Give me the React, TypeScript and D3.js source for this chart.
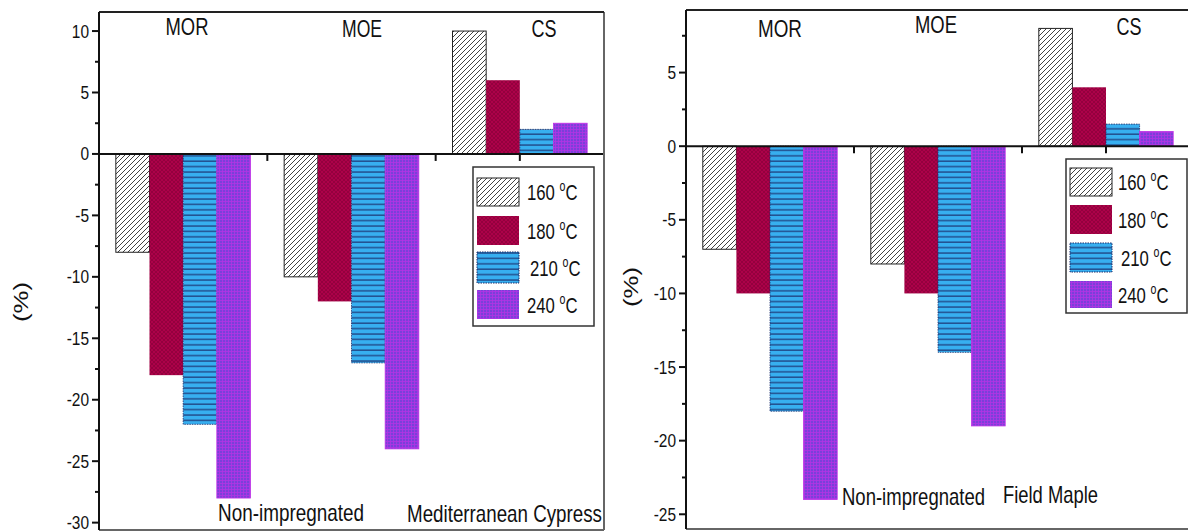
import React from 'react';
import * as d3 from 'd3';

// ---- data ----
const categories = ['MOR', 'MOE', 'CS'];
const temperatures = ['160', '180', '210', '240'];

const cypress160 = [-8, -10, 10];
const cypress180 = [-18, -12, 6];
const cypress210 = [-22, -17, 2];
const cypress240 = [-28, -24, 2.5];

const maple160 = [-7, -8, 8];
const maple180 = [-10, -10, 4];
const maple210 = [-18, -14, 1.5];
const maple240 = [-24, -19, 1];

const cypressTicks = [10, 5, 0, -5, -10, -15, -20, -25, -30];
const mapleTicks = [5, 0, -5, -10, -15, -20, -25];

const patternIds = ['p160', 'p180', 'p210', 'p240'];

type Panel = {
  key: string;
  species: string;
  series: number[][];
  ticks: number[];
  domain: [number, number];
  x0: number; x1: number; yTop: number; yBot: number;
  catLabels: { x: number; y: number; w: number }[];
  bottom: { x: number; y: number; w: number; text: string }[];
  legend: { x: number; y: number; w: number; h: number; sw: { y: number; h: number }[]; sw0: number; sw1: number; tx: number };
  yTitle: { x: number; y: number };
};

const panels: Panel[] = [
  {
    key: 'a', species: 'Mediterranean Cypress',
    series: [cypress160, cypress180, cypress210, cypress240],
    ticks: cypressTicks, domain: [-30.6, 11.55],
    x0: 99, x1: 604, yTop: 12, yBot: 530,
    catLabels: [{ x: 187, y: 35, w: 43 }, { x: 362, y: 37, w: 40 }, { x: 544, y: 37, w: 25 }],
    bottom: [{ x: 218, y: 521, w: 146, text: 'Non-impregnated' }, { x: 407, y: 522, w: 195, text: 'Mediterranean Cypress' }],
    legend: { x: 473, y: 167, w: 121, h: 159, sw: [{ y: 178, h: 28 }, { y: 216, h: 29 }, { y: 252, h: 31 }, { y: 290, h: 29 }], sw0: 477, sw1: 519, tx: 527 },
    yTitle: { x: 22, y: 302 },
  },
  {
    key: 'b', species: 'Field Maple',
    series: [maple160, maple180, maple210, maple240],
    ticks: mapleTicks, domain: [-26.0, 9.25],
    x0: 686, x1: 1190, yTop: 10, yBot: 529,
    catLabels: [{ x: 780, y: 37, w: 44 }, { x: 936, y: 33, w: 42 }, { x: 1129, y: 35, w: 25 }],
    bottom: [{ x: 842, y: 505, w: 143, text: 'Non-impregnated' }, { x: 1003, y: 503, w: 95, text: 'Field Maple' }],
    legend: { x: 1066, y: 159, w: 121, h: 154, sw: [{ y: 168, h: 28 }, { y: 205, h: 29 }, { y: 243, h: 29 }, { y: 281, h: 27 }], sw0: 1070, sw1: 1112, tx: 1118 },
    yTitle: { x: 632, y: 287 },
  },
];

const FONT = 'Liberation Sans, Arial, sans-serif';

function Patterns() {
  return (
    <defs>
      <pattern id="p160" patternUnits="userSpaceOnUse" width={5} height={5}>
        <rect width={5} height={5} fill="#fff" />
        <path d="M-1,1 L1,-1 M0,5 L5,0 M4,6 L6,4" stroke="#111" strokeWidth={0.8} />
      </pattern>
      <pattern id="p180" patternUnits="userSpaceOnUse" width={4} height={4}>
        <rect width={4} height={4} fill="#ac0249" />
        <path d="M0,0 L4,4 M4,0 L0,4" stroke="#8a003a" strokeWidth={0.7} />
      </pattern>
      <pattern id="p210" patternUnits="userSpaceOnUse" width={6} height={5.4}>
        <rect width={6} height={5.4} fill="#37aff0" />
        <line x1={0} x2={6} y1={4.6} y2={4.6} stroke="#1b2d6b" strokeWidth={1.1} />
      </pattern>
      <pattern id="p240" patternUnits="userSpaceOnUse" width={3} height={3}>
        <rect width={3} height={3} fill="#7a40da" />
        <path d="M0,0.5 L3,0.5 M0.5,0 L0.5,3" stroke="#b233e4" strokeWidth={0.8} />
      </pattern>
    </defs>
  );
}

function SText({ x, y, w, size, anchor = 'start', children, rotate = 0 }: any) {
  return (
    <text
      transform={`translate(${x},${y}) rotate(${rotate})`}
      fontFamily={FONT}
      fontSize={size}
      fill="#111"
      textAnchor={anchor}
      textLength={w}
      lengthAdjust="spacingAndGlyphs"
    >
      {children}
    </text>
  );
}

function PanelView({ p }: { p: Panel }) {
  const y = d3.scaleLinear().domain(p.domain).range([p.yBot, p.yTop]);
  const xOuter = d3.scaleBand<string>().domain(categories).range([p.x0, p.x1]).padding(0);
  const bw = xOuter.bandwidth();
  const xInner = d3.scaleBand<string>().domain(temperatures).range([0, bw]).paddingInner(0).paddingOuter(0.5);
  const y0 = y(0);

  const minor: number[] = [];
  for (let v = Math.ceil(p.domain[0] / 2.5) * 2.5; v <= p.domain[1]; v += 2.5) {
    if (!p.ticks.includes(v)) minor.push(v);
  }
  const xTicks = d3.range(1, 6).map((k) => p.x0 + (bw / 2) * k);

  return (
    <g>
      {xTicks.map((tx, i) => (
        <line key={i} x1={tx} x2={tx} y1={y0} y2={y0 + 7} stroke="#111" strokeWidth={2} />
      ))}
      {categories.map((c, ci) =>
        temperatures.map((t, ti) => {
          const v = p.series[ti][ci];
          const yy = Math.min(y(v), y0);
          const h = Math.abs(y(v) - y0);
          const bx = (xOuter(c) as number) + (xInner(t) as number);
          const stroke = ti === 0 ? '#222' : ti === 2 ? '#1b2d6b' : ti === 3 ? '#c030e6' : 'none';
          return (
            <rect
              key={c + t}
              x={bx}
              y={yy}
              width={xInner.bandwidth()}
              height={h}
              fill={`url(#${patternIds[ti]})`}
              stroke={stroke}
              strokeWidth={ti === 0 ? 1 : 0.8}
              strokeDasharray={ti === 2 ? '1.5,1' : undefined}
            />
          );
        })
      )}
      <line x1={p.x0} x2={p.x1} y1={y0} y2={y0} stroke="#111" strokeWidth={2} />
      <line x1={p.x1} x2={p.x1} y1={p.yTop} y2={p.yBot} stroke="#666" strokeWidth={2} />
      <line x1={p.x0} x2={p.x1} y1={p.yBot} y2={p.yBot} stroke="#666" strokeWidth={2} />
      <line x1={p.x0} x2={p.x1} y1={p.yTop} y2={p.yTop} stroke="#222" strokeWidth={2} />
      <line x1={p.x0} x2={p.x0} y1={p.yTop} y2={p.yBot} stroke="#111" strokeWidth={2} />
      {p.ticks.map((v) => (
        <g key={v}>
          <line x1={p.x0 - 7} x2={p.x0} y1={y(v)} y2={y(v)} stroke="#111" strokeWidth={2} />
          <text fontFamily={FONT} fontSize={18} textAnchor="end" fill="#111"
            transform={`translate(${p.x0 - 10},${y(v) + 6.5}) scale(0.86,1)`}>
            {v}
          </text>
        </g>
      ))}
      {minor.map((v) => (
        <line key={'m' + v} x1={p.x0 - 4} x2={p.x0} y1={y(v)} y2={y(v)} stroke="#111" strokeWidth={2} />
      ))}
      {categories.map((c, i) => (
        <SText key={c} x={p.catLabels[i].x} y={p.catLabels[i].y} w={p.catLabels[i].w} size={23} anchor="middle">
          {c}
        </SText>
      ))}
      {p.bottom.map((b) => (
        <SText key={b.text} x={b.x} y={b.y} w={b.w} size={24}>
          {b.text}
        </SText>
      ))}
      <SText x={p.yTitle.x + 6} y={p.yTitle.y} w={40} size={20} anchor="middle" rotate={-90}>
        (%)
      </SText>
      <rect x={p.legend.x} y={p.legend.y} width={p.legend.w} height={p.legend.h} fill="#fff" stroke="#333" strokeWidth={1.5} />
      {temperatures.map((t, i) => {
        const s = p.legend.sw[i];
        return (
          <g key={t}>
            <rect x={p.legend.sw0} y={s.y} width={p.legend.sw1 - p.legend.sw0} height={s.h}
              fill={`url(#${patternIds[i]})`}
              stroke={i === 0 ? '#222' : i === 2 ? '#1b2d6b' : 'none'}
              strokeWidth={1}
              strokeDasharray={i === 2 ? '1.5,1' : undefined} />
            <text
              transform={`translate(${p.legend.tx + (i === 2 ? 3 : 0)},${s.y + s.h / 2 + 8}) scale(0.76,1)`}
              fontFamily={FONT} fontSize={22} fill="#111">
              <tspan>{t} </tspan>
              <tspan dy={-9} fontSize={14}>o</tspan>
              <tspan dy={9}>C</tspan>
            </text>
          </g>
        );
      })}
    </g>
  );
}

export default function App() {
  return (
    <svg width={1188} height={531} style={{ position: 'absolute', left: 0, top: 0, background: '#fff' }}>
      <Patterns />
      <rect width={1188} height={531} fill="#fff" />
      {panels.map((p) => (
        <PanelView key={p.key} p={p} />
      ))}
    </svg>
  );
}
